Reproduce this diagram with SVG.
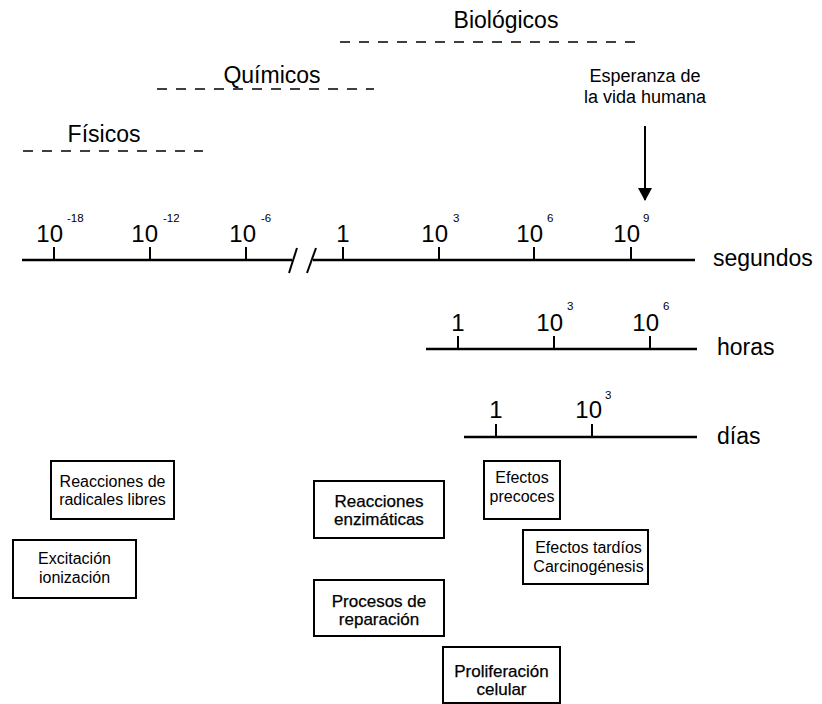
<svg xmlns="http://www.w3.org/2000/svg" width="822" height="704" viewBox="0 0 822 704">
  <defs>
    <marker id="arrowhead" markerWidth="13" markerHeight="14" refX="12" refY="7" orient="auto" markerUnits="userSpaceOnUse">
      <path d="M0,0 L13,7 L0,14 Z" fill="#000"/>
    </marker>
    <style>
      text { font-family: "Liberation Sans", Arial, sans-serif; fill: #000; }
      .num { font-size: 24px; }
      .sup { font-size: 11.5px; }
      .lbl { font-size: 23px; }
      .note { font-size: 18px; text-anchor: middle; }
      .box rect { fill: #fff; stroke: #000; stroke-width: 2; }
      .box text { font-size: 16px; text-anchor: middle; }
      .box.strong text { font-size: 17px; stroke: #000; stroke-width: 0.25; }
      .axis { stroke: #000; stroke-width: 2.5; fill: none; }
      .tick { stroke: #000; stroke-width: 2; }
      .dash { stroke: #000; stroke-width: 1.6; stroke-dasharray: 10 9; fill: none; }
    </style>
  </defs>

  <!-- Process families over time -->
  <g id="fisicos">
    <text class="lbl" x="104" y="142" text-anchor="middle">Físicos</text>
    <line class="dash" x1="23" y1="151" x2="203" y2="151"/>
  </g>
  <g id="quimicos">
    <text class="lbl" x="272" y="83" text-anchor="middle">Químicos</text>
    <line class="dash" x1="157" y1="89" x2="374" y2="89"/>
  </g>
  <g id="biologicos">
    <text class="lbl" x="506" y="28" text-anchor="middle">Biológicos</text>
    <line class="dash" x1="340" y1="42" x2="641" y2="42"/>
  </g>

  <g id="esperanza">
    <text class="note" x="645" y="82">Esperanza de</text>
    <text class="note" x="645" y="103">la vida humana</text>
  </g>

  <!-- Time scales -->
  <g id="eje-segundos">
    <path class="axis" d="M22,260 H292 M313,260 H695"/>
    <line class="tick" x1="289" y1="273" x2="297" y2="248" stroke-width="1.5"/>
    <line class="tick" x1="307" y1="273" x2="316" y2="248" stroke-width="1.5"/>
    <line class="tick" x1="54" y1="247" x2="54" y2="260"/>
    <line class="tick" x1="150" y1="247" x2="150" y2="260"/>
    <line class="tick" x1="246" y1="247" x2="246" y2="260"/>
    <line class="tick" x1="343" y1="247" x2="343" y2="260" stroke-width="3"/>
    <line class="tick" x1="439" y1="247" x2="439" y2="260"/>
    <line class="tick" x1="534" y1="247" x2="534" y2="260"/>
    <line class="tick" x1="631" y1="247" x2="631" y2="260"/>
    <text class="num" x="63" y="242" text-anchor="end">10</text>
    <text class="sup" x="67" y="222">-18</text>
    <text class="num" x="158" y="242" text-anchor="end">10</text>
    <text class="sup" x="163" y="222">-12</text>
    <text class="num" x="256" y="242" text-anchor="end">10</text>
    <text class="sup" x="261" y="222">-6</text>
    <text class="num" x="343" y="242" text-anchor="middle">1</text>
    <text class="num" x="448" y="242" text-anchor="end">10</text>
    <text class="sup" x="453" y="222">3</text>
    <text class="num" x="543" y="242" text-anchor="end">10</text>
    <text class="sup" x="547" y="222">6</text>
    <text class="num" x="640" y="242" text-anchor="end">10</text>
    <text class="sup" x="643" y="222">9</text>
    <text class="lbl" x="713" y="266">segundos</text>
  </g>

  <g id="eje-horas">
    <line class="axis" x1="426" y1="349" x2="697" y2="349"/>
    <line class="tick" x1="458" y1="336" x2="458" y2="349"/>
    <line class="tick" x1="554" y1="336" x2="554" y2="349"/>
    <line class="tick" x1="650" y1="336" x2="650" y2="349"/>
    <text class="num" x="458" y="331" text-anchor="middle">1</text>
    <text class="num" x="563" y="331" text-anchor="end">10</text>
    <text class="sup" x="567" y="310">3</text>
    <text class="num" x="659" y="331" text-anchor="end">10</text>
    <text class="sup" x="663" y="310">6</text>
    <text class="lbl" x="717" y="355">horas</text>
  </g>

  <g id="eje-dias">
    <line class="axis" x1="464" y1="437" x2="697" y2="437"/>
    <line class="tick" x1="496" y1="424" x2="496" y2="437"/>
    <line class="tick" x1="592" y1="424" x2="592" y2="437"/>
    <text class="num" x="496" y="418" text-anchor="middle">1</text>
    <text class="num" x="602" y="418" text-anchor="end">10</text>
    <text class="sup" x="605" y="399">3</text>
    <text class="lbl" x="717" y="444">días</text>
  </g>

  <!-- Connectors -->
  <g id="connectors">
    <line x1="645" y1="126" x2="645" y2="200" stroke="#000" stroke-width="2" marker-end="url(#arrowhead)"/>
  </g>

  <!-- Event boxes -->
  <g id="radicales" class="box">
    <rect x="51" y="461" width="123" height="58"/>
    <text x="112.5" y="487">Reacciones de</text>
    <text x="112.5" y="505">radicales libres</text>
  </g>
  <g id="excitacion" class="box">
    <rect x="13" y="540" width="123" height="58"/>
    <text x="74.5" y="564">Excitación</text>
    <text x="74.5" y="583">ionización</text>
  </g>
  <g id="enzimaticas" class="box strong">
    <rect x="314" y="481" width="130" height="57"/>
    <text x="379" y="507">Reacciones</text>
    <text x="379" y="525">enzimáticas</text>
  </g>
  <g id="reparacion" class="box strong">
    <rect x="314" y="580" width="130" height="56"/>
    <text x="379" y="607">Procesos de</text>
    <text x="379" y="625">reparación</text>
  </g>
  <g id="proliferacion" class="box strong">
    <rect x="443" y="647" width="117" height="56"/>
    <text x="501.5" y="677">Proliferación</text>
    <text x="501.5" y="695">celular</text>
  </g>
  <g id="precoces" class="box">
    <rect x="484" y="461" width="76" height="58"/>
    <text x="522" y="483">Efectos</text>
    <text x="522" y="502">precoces</text>
  </g>
  <g id="tardios" class="box">
    <rect x="523" y="530" width="125" height="54"/>
    <text x="588.5" y="553">Efectos tardíos</text>
    <text x="588.5" y="572">Carcinogénesis</text>
  </g>
</svg>
